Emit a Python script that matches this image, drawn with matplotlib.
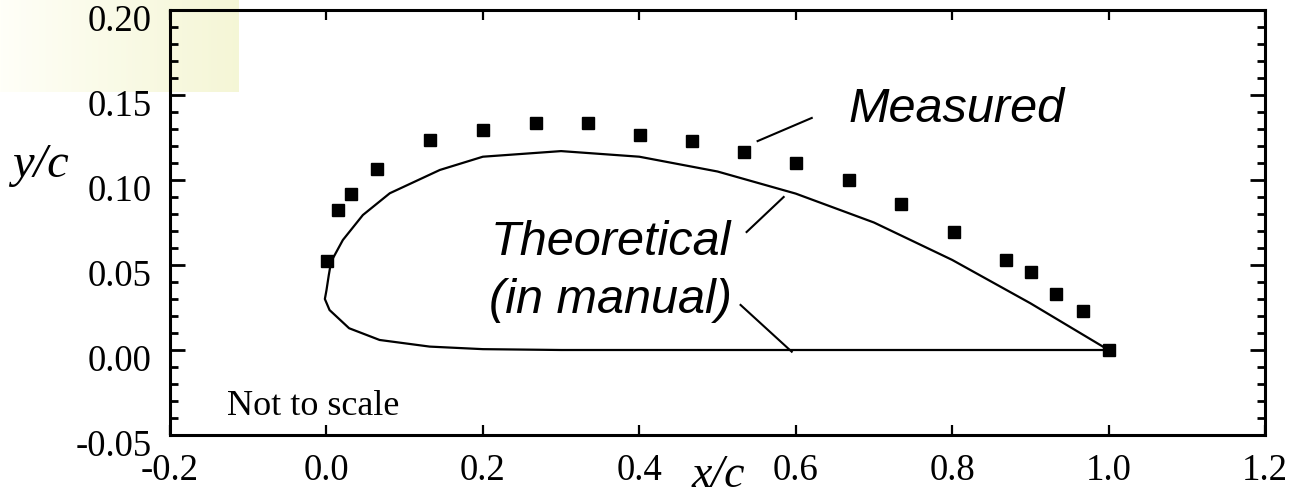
import numpy as np
import matplotlib
matplotlib.use('Agg')
import matplotlib.pyplot as plt
from matplotlib.ticker import FixedLocator, FormatStrFormatter
from matplotlib.transforms import ScaledTranslation

plt.rcParams['axes.unicode_minus'] = False

# ---- data ----
meas_x = [0.001, 0.0145, 0.032, 0.0645, 0.133, 0.2, 0.2675, 0.334, 0.401, 0.468,
          0.534, 0.6, 0.668, 0.735, 0.803, 0.869, 0.901, 0.933, 0.967, 1.0]
meas_y = [0.0525, 0.0824, 0.092, 0.1065, 0.1235, 0.1295, 0.1333, 0.1333, 0.1265, 0.123,
          0.1167, 0.1098, 0.1, 0.0857, 0.0692, 0.0529, 0.046, 0.033, 0.023, 0.0]

theo_x = [1.0, 0.9, 0.8, 0.7, 0.6, 0.5, 0.4, 0.3, 0.2, 0.145, 0.081, 0.0466, 0.021,
          0.006, 0.003, 0.0, -0.002, 0.004, 0.029, 0.068, 0.132, 0.2, 0.3, 0.6, 1.0]
theo_y = [0.0, 0.0275, 0.053, 0.075, 0.092, 0.105, 0.1137, 0.117, 0.1137, 0.1059, 0.0922,
          0.0794, 0.0647, 0.052, 0.044, 0.035, 0.03, 0.0235, 0.0128, 0.0059, 0.002,
          0.0005, 0.0, 0.0, 0.0]

x_ticks = [-0.2, 0.0, 0.2, 0.4, 0.6, 0.8, 1.0, 1.2]
y_ticks = [-0.05, 0.0, 0.05, 0.10, 0.15, 0.20]
y_minor = [round(-0.05 + 0.01 * i, 2) for i in range(26)]

# annotation anchors (data coords)
measured_label = (0.668, 0.134)
measured_leader = ((0.5513, 0.1229), (0.6205, 0.1365))
theo_label1 = (0.3635, 0.0559)
theo_label2 = (0.3628, 0.0218)
theo_leader1 = ((0.5372, 0.0694), (0.5846, 0.090))
theo_leader2 = ((0.5295, 0.0265), (0.5949, -0.001))
note_pos = (-0.127, -0.0382)

W, H = 1297, 498
fig = plt.figure(figsize=(W / 100, H / 100), dpi=100)
fig.patch.set_facecolor('white')

# faint yellow gradient patch in top-left corner
bg = fig.add_axes([0, 1 - 92 / H, 238 / W, 92 / H], zorder=0)
t = np.linspace(0, 1, 200) ** 0.9
col_l = np.array([1.0, 1.0, 0.975])
col_r = np.array([0.96, 0.965, 0.84])
grad = col_l[None, None, :] * (1 - t)[None, :, None] + col_r[None, None, :] * t[None, :, None]
grad = np.repeat(grad, 20, axis=0)
bg.imshow(grad, aspect='auto', interpolation='bilinear')
bg.axis('off')

ax = fig.add_axes([170 / W, (H - 435) / H, 1095 / W, 425 / H], zorder=1)
ax.patch.set_alpha(0)

ax.plot(theo_x, theo_y, color='black', lw=1.6, solid_joinstyle='round')
ax.plot(meas_x, meas_y, linestyle='none', marker='s', ms=8.5, color='black')

ax.set_xlim(-0.2, 1.2)
ax.set_ylim(-0.05, 0.20)

ax.xaxis.set_major_locator(FixedLocator(x_ticks))
ax.yaxis.set_major_locator(FixedLocator(y_ticks))
ax.yaxis.set_minor_locator(FixedLocator(y_minor))
ax.xaxis.set_major_formatter(FormatStrFormatter('%.1f'))
ax.yaxis.set_major_formatter(FormatStrFormatter('%.2f'))

for s in ax.spines.values():
    s.set_linewidth(2.2)

serif = ['Liberation Serif', 'DejaVu Serif']
sans = ['Liberation Sans', 'DejaVu Sans']

ax.tick_params(axis='x', which='major', direction='in', top=True, bottom=True,
               length=7.5, width=1.6, labelsize=26.5, pad=13)
ax.tick_params(axis='y', which='major', direction='in', left=True, right=True,
               length=11, width=2, labelsize=26.5, pad=13)
ax.tick_params(axis='y', which='minor', direction='in', left=True, right=True,
               length=6, width=2)
for lab in ax.get_xticklabels() + ax.get_yticklabels():
    lab.set_family(serif)

off = ScaledTranslation(0, -8 / 100, fig.dpi_scale_trans)
for tk in ax.yaxis.get_major_ticks():
    tk.label1.set_transform(tk.label1.get_transform() + off)

ax.set_xlabel('x/c', family=serif, style='italic', fontsize=33)
ax.xaxis.set_label_coords(0.5005, -0.122)
ax.xaxis.label.set_va('baseline')
ax.set_ylabel('y/c', family=serif, style='italic', fontsize=35, rotation=0,
              ha='center', va='center')
ax.yaxis.set_label_coords(-0.118, 0.635)

ax.text(*measured_label, 'Measured', family=sans, style='italic', fontsize=35,
        ha='left', va='baseline')
ax.text(*theo_label1, 'Theoretical', family=sans, style='italic', fontsize=35,
        ha='center', va='baseline')
ax.text(*theo_label2, '(in manual)', family=sans, style='italic', fontsize=35,
        ha='center', va='baseline')
for (p0, p1) in (measured_leader, theo_leader1, theo_leader2):
    ax.plot([p0[0], p1[0]], [p0[1], p1[1]], color='black', lw=1.5)

ax.text(*note_pos, 'Not to scale', family=serif, fontsize=26, ha='left', va='baseline')

fig.savefig('out.png', dpi=100, facecolor='white')
